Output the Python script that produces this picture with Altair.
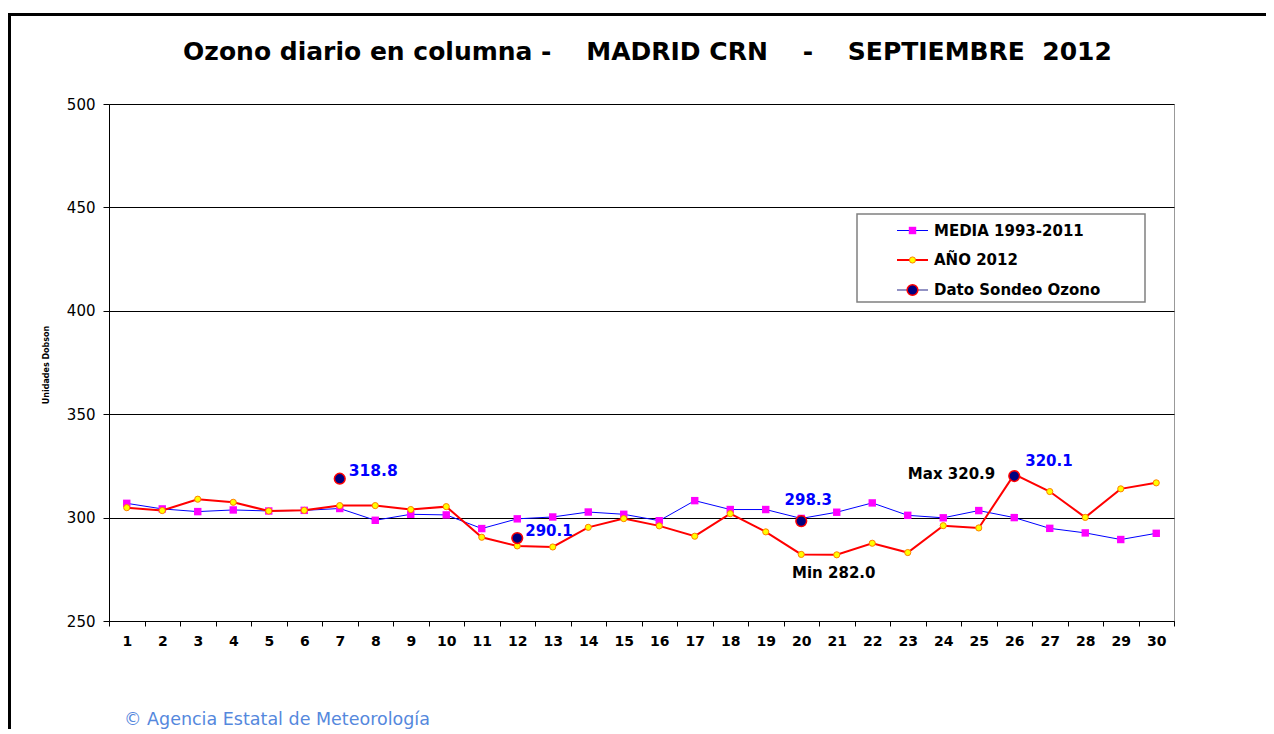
import altair as alt
import pandas as pd

# ---------------- data ----------------
days = list(range(1, 31))
media = [306.9, 304.2, 302.9, 303.7, 303.2, 303.5, 304.4, 298.7, 301.6, 301.3,
         294.7, 299.4, 300.3, 302.7, 301.6, 298.5, 308.2, 303.9, 303.9, 299.6,
         302.6, 307.1, 301.1, 299.9, 303.4, 300.0, 294.8, 292.6, 289.4, 292.4]
ano = [304.8, 303.4, 308.9, 307.4, 303.2, 303.5, 305.8, 305.8, 303.9, 305.3,
       290.5, 286.3, 285.8, 295.3, 299.5, 296.0, 291.0, 301.9, 293.1, 282.2,
       282.0, 287.6, 283.1, 296.1, 295.0, 320.9, 312.6, 300.1, 313.9, 316.8]
sondeo_days = [7, 12, 20, 26]
sondeo_vals = [318.8, 290.1, 298.3, 320.1]
y_ticks = [250, 300, 350, 400, 450, 500]
legend_labels = ["MEDIA 1993-2011", "AÑO 2012", "Dato Sondeo Ozono"]
NB = "\u00a0"
title_text = ("Ozono diario en columna -" + NB * 4 + "MADRID CRN" + NB * 4 + "-"
              + NB * 4 + "SEPTIEMBRE" + NB * 2 + "2012")
y_title = "Unidades Dobson"
footer_text = "© Agencia Estatal de Meteorología"

FONT = "DejaVu Sans"

df = pd.DataFrame({"day": days, "media": media, "ano": ano})
sdf = pd.DataFrame({"day": sondeo_days, "val": sondeo_vals,
                    "label": [f"{v:.1f}" for v in sondeo_vals]})
imax = ano.index(max(ano))
imin = ano.index(min(ano))
ext = pd.DataFrame({"day": [days[imax], days[imin]],
                    "val": [ano[imax], ano[imin]],
                    "label": [f"Max {ano[imax]:.1f}", f"Min {ano[imin]:.1f}"]})
one = pd.DataFrame({"k": [0]})

# ---------------- scales / axes ----------------
xenc = alt.X("day:O",
             scale=alt.Scale(paddingInner=0, paddingOuter=0),
             axis=alt.Axis(title=None, labelAngle=0, labelFont=FONT, labelFontSize=14,
                           labelFontWeight="bold", labelColor="black", tickColor="black",
                           domainColor="black", tickSize=5, labelPadding=8,
                           tickBand="extent", grid=False))
yscale = alt.Scale(domain=[250, 500], nice=False, zero=False)
yaxis = alt.Axis(title=None, values=y_ticks, grid=True, gridColor="black", gridWidth=1,
                 labelFont=FONT, labelFontSize=15, labelColor="black", tickColor="black",
                 tickSize=6, labelPadding=8, domainColor="black")


def Y(field):
    return alt.Y(field, scale=yscale, axis=yaxis)


layers = []

# legend box
layers.append(alt.Chart(one).mark_rect(fill="white", stroke="#808080", strokeWidth=1.5).encode(
    x=alt.value(748), x2=alt.value(1036), y=alt.value(110), y2=alt.value(198)))

# data series
layers.append(alt.Chart(df).mark_line(color="#0000ff", strokeWidth=1).encode(x=xenc, y=Y("media:Q")))
layers.append(alt.Chart(df).mark_point(shape="square", filled=True, fill="#ff00ff",
                                       stroke="#ff00ff", strokeWidth=0, size=55, opacity=1)
              .encode(x=xenc, y=Y("media:Q")))
layers.append(alt.Chart(df).mark_line(color="#ff0000", strokeWidth=2).encode(x=xenc, y=Y("ano:Q")))
layers.append(alt.Chart(df).mark_point(shape="circle", filled=True, fill="#ffff00",
                                       stroke="#ff7f00", strokeWidth=1, size=38, opacity=1)
              .encode(x=xenc, y=Y("ano:Q")))
layers.append(alt.Chart(sdf).mark_point(shape="circle", filled=True, fill="#000080",
                                        stroke="#ff0000", strokeWidth=1.5, size=115, opacity=1)
              .encode(x=xenc, y=Y("val:Q")))

# sondeo labels (individual offsets)
offsets = {7: ("left", 9, -8, 15.5), 12: ("left", 8, -7, 15),
           20: ("center", 7, -21, 15), 26: ("left", 11, -15, 15)}
for d in sondeo_days:
    al, dx, dy, fs = offsets[d]
    layers.append(alt.Chart(sdf[sdf.day == d]).mark_text(
        align=al, baseline="middle", dx=dx, dy=dy, font=FONT, fontSize=fs,
        fontWeight="bold", color="#0000ff").encode(x=xenc, y=Y("val:Q"), text="label:N"))

# max / min labels
layers.append(alt.Chart(ext.iloc[[0]]).mark_text(
    align="right", baseline="middle", dx=-19, dy=0, font=FONT, fontSize=15,
    fontWeight="bold", color="black").encode(x=xenc, y=Y("val:Q"), text="label:N"))
layers.append(alt.Chart(ext.iloc[[1]]).mark_text(
    align="center", baseline="middle", dx=-3, dy=18, font=FONT, fontSize=15,
    fontWeight="bold", color="black").encode(x=xenc, y=Y("val:Q"), text="label:N"))

# legend entries
rows = [126.5, 156, 186]
lx1, lx2, lsym, ltxt = 788, 819, 803.5, 825
legend_styles = [
    dict(line="#0000ff", lw=1, shape="square", fill="#ff00ff", stroke="#ff00ff", sw=0, size=55),
    dict(line="#ff0000", lw=2, shape="circle", fill="#ffff00", stroke="#ff7f00", sw=1, size=38),
    dict(line="#6f6fb0", lw=1.5, shape="circle", fill="#000080", stroke="#ff0000", sw=1.5, size=115),
]
for lab, row, st in zip(legend_labels, rows, legend_styles):
    layers.append(alt.Chart(one).mark_rule(color=st["line"], strokeWidth=st["lw"]).encode(
        x=alt.value(lx1), x2=alt.value(lx2), y=alt.value(row)))
    layers.append(alt.Chart(one).mark_point(shape=st["shape"], filled=True, fill=st["fill"],
                                            stroke=st["stroke"], strokeWidth=st["sw"],
                                            size=st["size"], opacity=1).encode(
        x=alt.value(lsym), y=alt.value(row)))
    layers.append(alt.Chart(one).mark_text(align="left", baseline="middle", font=FONT,
                                           fontSize=15, fontWeight="bold", color="black").encode(
        x=alt.value(ltxt), y=alt.value(row), text=alt.value(lab)))

# title, axis title, footer
layers.append(alt.Chart(one).mark_text(align="center", baseline="middle", font=FONT, fontSize=25,
                                       fontWeight="bold", color="black").encode(
    x=alt.value(538.5), y=alt.value(-52), text=alt.value(title_text)))
layers.append(alt.Chart(one).mark_text(align="center", baseline="middle", font=FONT, fontSize=8,
                                       fontWeight="bold", color="black", angle=270).encode(
    x=alt.value(-62), y=alt.value(261), text=alt.value(y_title)))
layers.append(alt.Chart(one).mark_text(align="left", baseline="middle", font=FONT,
                                       fontSize=17.5, color="#5588dd").encode(
    x=alt.value(15), y=alt.value(616), text=alt.value(footer_text)))

# outer frame
layers.append(alt.Chart(one).mark_rule(color="black", strokeWidth=3).encode(
    x=alt.value(-99.5), y=alt.value(-89.5), y2=alt.value(640)))
layers.append(alt.Chart(one).mark_rule(color="black", strokeWidth=3).encode(
    x=alt.value(-101), x2=alt.value(1160), y=alt.value(-89.5)))

chart = alt.layer(*layers).properties(
    width=1065, height=517,
    padding={"left": 101, "top": 96, "right": 92, "bottom": 108},
    autosize=alt.AutoSizeParams(type="none"),
).configure_view(stroke="#999999", strokeWidth=1)

chart.save("out.html", embed_options={"renderer": "svg", "actions": False})
